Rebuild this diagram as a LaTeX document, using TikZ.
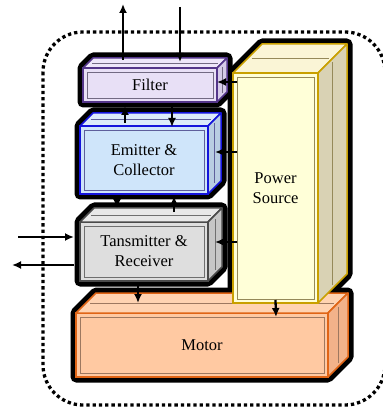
\documentclass[tikz,border=0pt]{standalone}
\usepackage{fontspec}
\setmainfont{Liberation Serif}
\usetikzlibrary{calc,arrows.meta}
\pgfdeclarelayer{background}
\pgfsetlayers{background,main}
\definecolor{filtF}{HTML}{E8E0F6}\definecolor{filtT}{HTML}{EEE7FA}\definecolor{filtS}{HTML}{D6CCE8}\definecolor{filtD}{HTML}{54368A}
\definecolor{emitF}{HTML}{CFE5FA}\definecolor{emitT}{HTML}{DCEBFA}\definecolor{emitS}{HTML}{B9CDE2}\definecolor{emitD}{HTML}{1414DC}
\definecolor{tranF}{HTML}{DEDEDE}\definecolor{tranT}{HTML}{E8E8E8}\definecolor{tranS}{HTML}{C6C6C6}\definecolor{tranD}{HTML}{4A4A4A}
\definecolor{powF}{HTML}{FFFFD8}\definecolor{powT}{HTML}{FAF5D6}\definecolor{powS}{HTML}{D9D2B4}\definecolor{powD}{HTML}{C9A000}
\definecolor{motF}{HTML}{FFC9A2}\definecolor{motT}{HTML}{FFD3B2}\definecolor{motS}{HTML}{F2B28A}\definecolor{motD}{HTML}{E06516}
% cube faces and shadow round a front-face node
\newcommand\cube[5]{%
\begin{pgfonlayer}{background}
\fill[black,draw=black,line width=11pt,line join=round](#1.south west)--(#1.north west)--++(#2,-#2)--($(#1.north east)+(#2,-#2)$)--($(#1.south east)+(#2,-#2)$)--(#1.south east)--cycle;
\end{pgfonlayer}
\filldraw[fill=#3,draw=#5,line width=1.5pt,line join=round](#1.north west)--++(#2,-#2)--($(#1.north east)+(#2,-#2)$)--(#1.north east)--cycle;
\filldraw[fill=#4,draw=#5,line width=1.5pt,line join=round](#1.north east)--++(#2,-#2)--($(#1.south east)+(#2,-#2)$)--(#1.south east)--cycle;
\draw[#5!30!gray,line width=.6pt]($(#1.north west)+(4,4)$)rectangle($(#1.south east)+(-4,-4)$);
\draw[#5!30!gray,line width=.6pt]($(#1.north west)+(.5*#2+4,-.5*#2)$)--($(#1.north east)+(.5*#2-4,-.5*#2)$);
\draw[#5!30!gray,line width=.6pt]($(#1.north east)+(.5*#2,-.5*#2+4)$)--($(#1.south east)+(.5*#2,-.5*#2-4)$);
}
\begin{document}
\begin{tikzpicture}[x=1pt,y=-1pt,
  box/.style 2 args={draw=#2,fill=#1,line width=1.5pt,outer sep=0pt,align=center,
    font=\fontsize{16.5}{20}\selectfont},
  sig/.style={line width=2.3pt,-{Latex[length=9pt,width=8pt]}}]
\useasboundingbox(0,0)rectangle(382,411);
\draw[line width=3.3pt,dash pattern=on 3.3pt off 3pt,rounded corners=40](43,32)rectangle(385,405);
\node[box={motF}{motD},minimum width=252,minimum height=64](motor)at(202,345){Motor};
\cube{motor}{20}{motT}{motS}{motD}
\node[box={powF}{powD},minimum width=85,minimum height=230](power)at(275.5,188){Power\\Source};
\cube{power}{29}{powT}{powS}{powD}
\node[box={filtF}{filtD},minimum width=134,minimum height=34](filter)at(150,85){Filter};
\cube{filter}{10}{filtT}{filtS}{filtD}
\node[box={emitF}{emitD},minimum width=128,minimum height=68](emit)at(144,160){Emitter \&\\Collector};
\cube{emit}{13}{emitT}{emitS}{emitD}
\node[box={tranF}{tranD},minimum width=128,minimum height=59](trans)at(144,251.5){Tansmitter \&\\Receiver};
\cube{trans}{14}{tranT}{tranS}{tranD}
\coordinate(txout)at(123,4);
\coordinate(rxin)at(180,7);
\coordinate(extin)at(18,237);
\coordinate(extout)at(12,265);
% signal paths
\draw[sig]($(filter.north)+(-27,-8)$)--(txout);
\draw[sig](rxin)--($(filter.north)+(30,-6)$);
\draw[sig]($(emit.north)+(-19,-3)$)--($(filter.south)+(-25,4)$);
\draw[sig]($(filter.south)+(22,4)$)--($(emit.north)+(28,1)$);
\draw[sig]($(emit.south)+(-27,2)$)--($(trans.north)+(-27,-14)$);
\draw[sig]($(trans.north)+(30,-10)$)--($(emit.south)+(30,2)$);
\draw[sig](extin)--($(trans.west)+(-6,-14.5)$);
\draw[sig]($(trans.west)+(-6,13.5)$)--(extout);
\draw[sig]($(trans.south)+(-6,4)$)--($(motor.north)+(-64,-10)$);
% supply
\draw[sig]($(power.west|-filter.east)+(4,-3)$)--($(filter.east)+(0,-3)$);
\draw[sig]($(power.west|-emit.east)+(4,-8)$)--($(emit.east)+(7,-8)$);
\draw[sig]($(power.west|-trans.east)+(4,-9.5)$)--($(trans.east)+(7,-9.5)$);
\draw[sig]($(power.south)+(0,-3)$)--($(motor.north)+(74,4)$);
\end{tikzpicture}
\end{document}
